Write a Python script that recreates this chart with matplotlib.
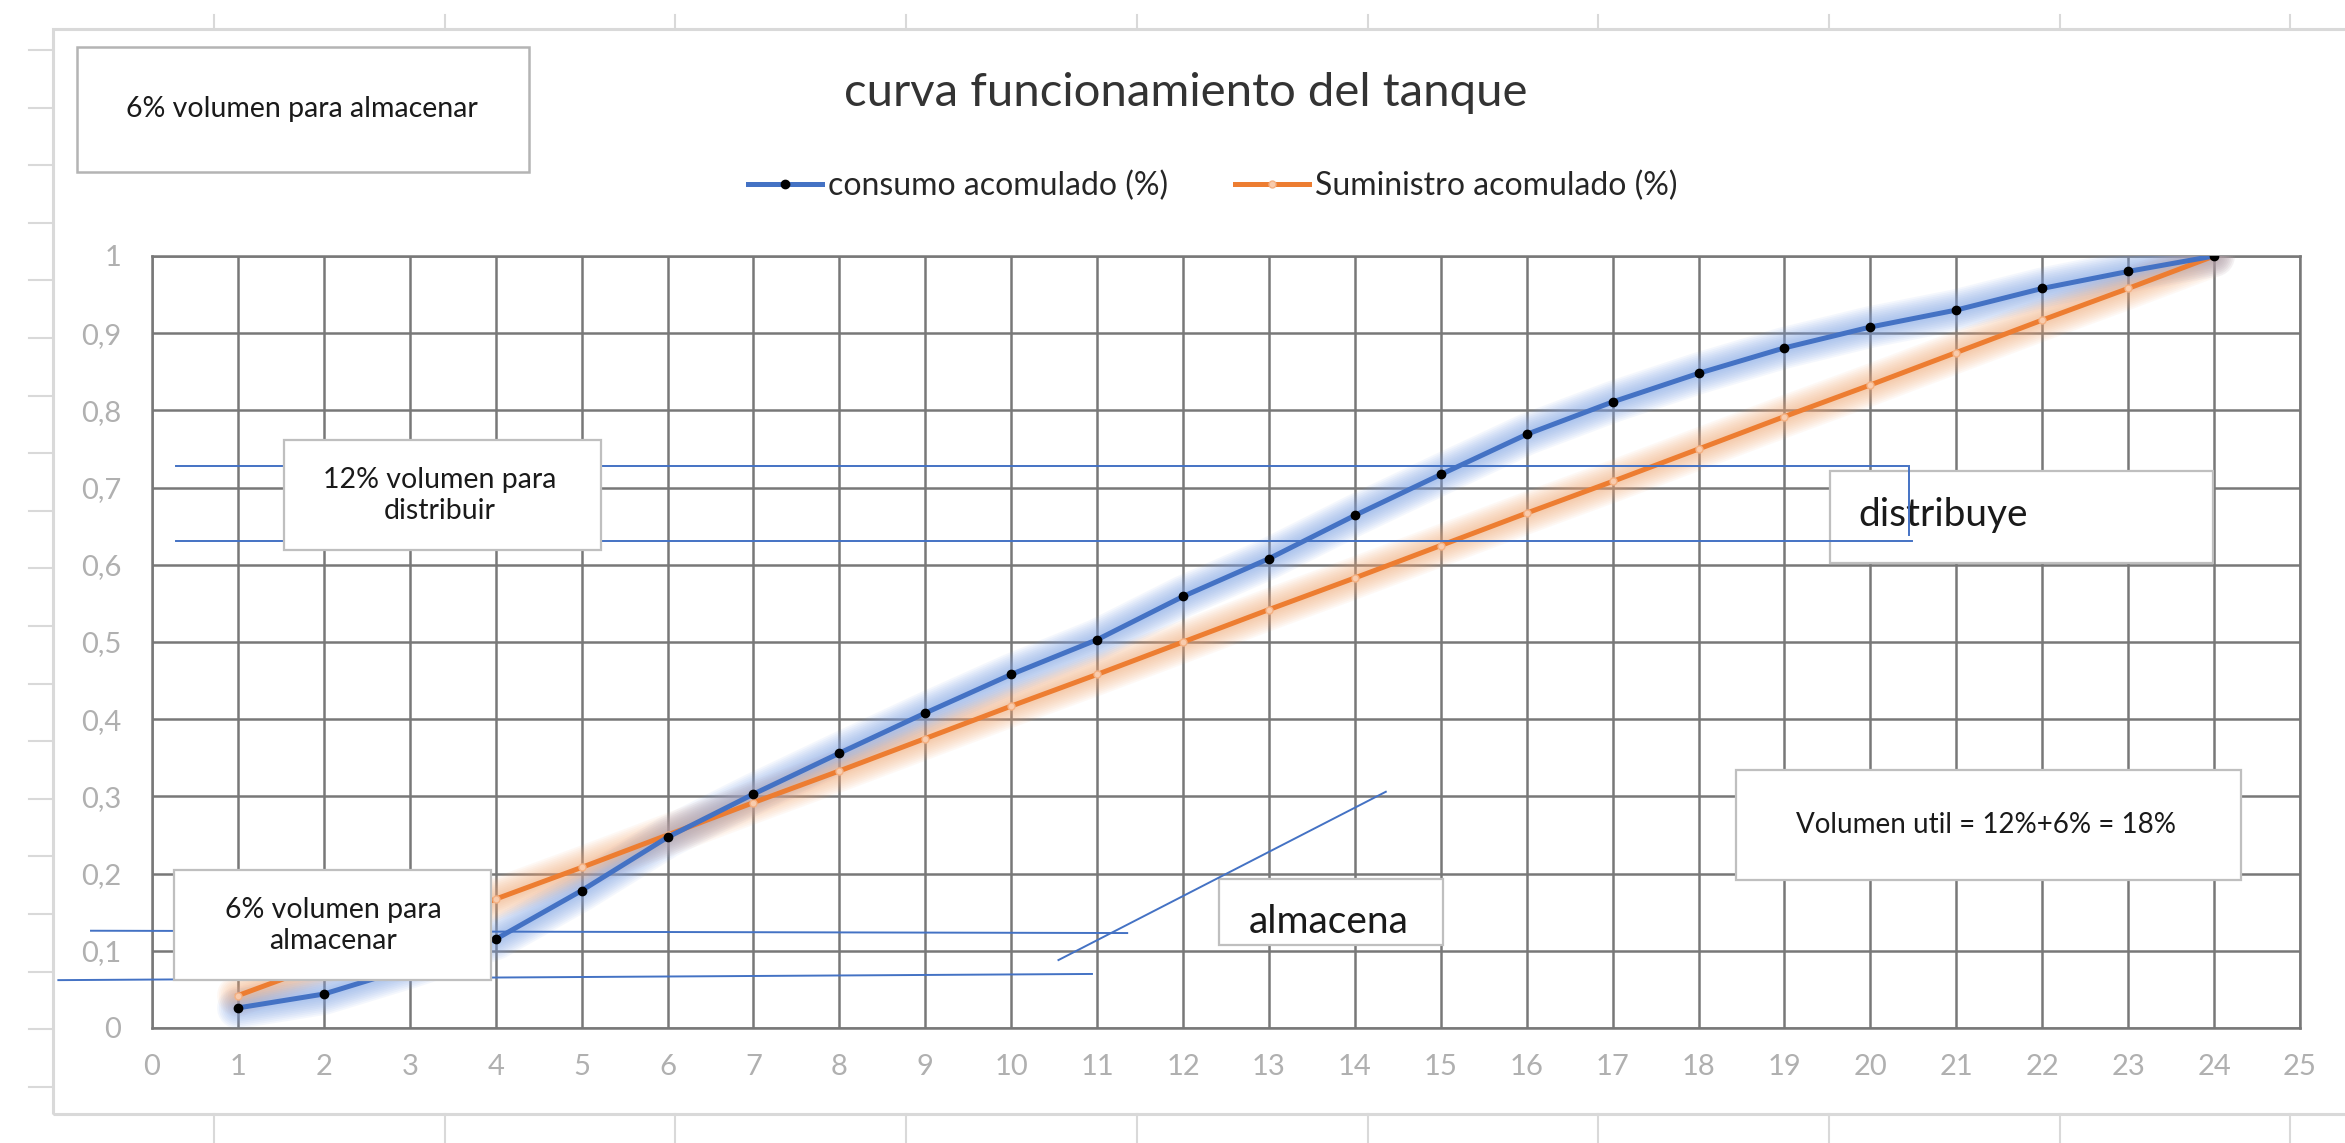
import matplotlib.pyplot as plt
from matplotlib.patches import Rectangle
from matplotlib.lines import Line2D

plt.rcParams['font.family'] = ['Lato', 'DejaVu Sans']

W, H = 2345, 1143  # output size in px

# ---- data ----
horas = list(range(1, 25))
consumo = [0.026, 0.044, 0.078, 0.115, 0.178, 0.247, 0.303, 0.356, 0.408, 0.458,
           0.503, 0.559, 0.608, 0.664, 0.717, 0.769, 0.811, 0.848, 0.881, 0.908,
           0.930, 0.958, 0.980, 1.000]
suministro = [0.042, 0.083, 0.125, 0.167, 0.208, 0.250, 0.292, 0.333, 0.375, 0.417,
              0.458, 0.500, 0.542, 0.583, 0.625, 0.667, 0.708, 0.750, 0.792, 0.833,
              0.875, 0.917, 0.958, 1.000]
x_ticks = list(range(26))
y_ticks = [0, 0.1, 0.2, 0.3, 0.4, 0.5, 0.6, 0.7, 0.8, 0.9, 1.0]
y_labels = ['0', '0,1', '0,2', '0,3', '0,4', '0,5', '0,6', '0,7', '0,8', '0,9', '1']

serie_consumo = 'consumo acomulado (%)'
serie_suministro = 'Suministro acomulado (%)'
titulo = 'curva funcionamiento del tanque'

# hand drawn marker lines (data units): (x0, y0, x1, y1)
lineas_distribuir = [(0.28, 0.728, 20.43, 0.728),
                     (0.28, 0.631, 20.48, 0.631),
                     (20.45, 0.728, 20.45, 0.639)]
lineas_almacenar = [(-0.71, 0.126, 11.35, 0.123),
                    (-1.09, 0.062, 10.94, 0.070),
                    (10.55, 0.088, 14.36, 0.306)]

BLUE = '#4472C4'
ORANGE = '#ED7D31'
GRID = '#787878'


def fx(px):
    return px / W


def fy(py):
    return 1 - py / H


fig = plt.figure(figsize=(W / 100, H / 100), dpi=100)

# spreadsheet background: chart area border and cell marks
fig.patches.append(Rectangle((fx(53), fy(1114)), fx(2500) - fx(53), fy(29) - fy(1114),
                             transform=fig.transFigure, fill=False,
                             edgecolor='#d9d9d9', lw=2.2, zorder=0))
for k in range(10):
    cx = 214 + 230.7 * k
    fig.add_artist(Line2D([fx(cx)] * 2, [fy(15), fy(29)], color='#d9d9d9', lw=1.5))
    fig.add_artist(Line2D([fx(cx)] * 2, [fy(1114), fy(1143)], color='#d9d9d9', lw=1.5))
for k in range(19):
    ry = 50 + 57.6 * k
    fig.add_artist(Line2D([fx(29), fx(53)], [fy(ry)] * 2, color='#d9d9d9', lw=1.5))

ax = fig.add_axes([fx(152), fy(1028), fx(2300) - fx(152), fy(256) - fy(1028)])
ax.set_xlim(0, 25)
ax.set_ylim(0, 1)
ax.set_xticks(x_ticks)
ax.set_yticks(y_ticks)
ax.set_yticklabels(y_labels)
ax.set_axisbelow(True)
ax.grid(True, color=GRID, lw=1.8)
for s in ax.spines.values():
    s.set_color(GRID)
    s.set_linewidth(1.8)
ax.tick_params(length=0, labelsize=21, labelcolor='#b0b0b0')
ax.tick_params(axis='x', pad=19)
ax.tick_params(axis='y', pad=22)

# soft glow under the series
for i in range(10):
    w = 30 - 2.6 * i
    ax.plot(horas, consumo, color='#7aa0e6', lw=w, alpha=0.08,
            solid_capstyle='round', solid_joinstyle='round', zorder=3)
    ax.plot(horas, suministro, color='#f5a66e', lw=w, alpha=0.07,
            solid_capstyle='round', solid_joinstyle='round', zorder=3)

ax.plot(horas, suministro, color=ORANGE, lw=3.6, marker='o', ms=5,
        mfc='#F8CBAD', mec='#F4B183', zorder=5)
ax.plot(horas, consumo, color=BLUE, lw=3.6, marker='o', ms=6,
        mfc='black', mec='black', zorder=5)

for x0, y0, x1, y1 in lineas_distribuir + lineas_almacenar:
    ax.plot([x0, x1], [y0, y1], color=BLUE, lw=1.4, zorder=6, clip_on=False)


def caja(x0, x1, y0, y1, z):
    ax.add_patch(Rectangle((x0, y0), x1 - x0, y1 - y0, facecolor='white',
                           edgecolor='#bfbfbf', lw=1.6, zorder=z, clip_on=False))


# boxes inside the plot
caja(19.53, 23.99, 0.602, 0.722, 2)
ax.text(19.86, 0.664, 'distribuye', fontsize=28, ha='left', va='center',
        color='#1a1a1a', zorder=2.5)
caja(12.42, 15.02, 0.108, 0.193, 2)
ax.text(13.69, 0.137, 'almacena', fontsize=28, ha='center', va='center',
        color='#1a1a1a', zorder=2.5)
caja(18.43, 24.31, 0.192, 0.334, 2)
ax.text(21.34, 0.263, 'Volumen util = 12%+6% = 18%', fontsize=20, ha='center',
        va='center', color='#1a1a1a', zorder=2.5)
caja(1.54, 5.23, 0.619, 0.762, 7)
ax.text(3.35, 0.690, '12% volumen para\ndistribuir', fontsize=20.5, ha='center',
        va='center', linespacing=1.25, color='#1a1a1a', zorder=8)
caja(0.26, 3.95, 0.062, 0.205, 7)
ax.text(2.11, 0.133, '6% volumen para\nalmacenar', fontsize=20.5, ha='center',
        va='center', linespacing=1.25, color='#1a1a1a', zorder=8)

# box above the chart
fig.patches.append(Rectangle((fx(77), fy(172)), fx(529) - fx(77), fy(47) - fy(172),
                             transform=fig.transFigure, facecolor='white',
                             edgecolor='#b4b4b4', lw=1.8))
fig.text(fx(302), fy(109), '6% volumen para almacenar', fontsize=20.5,
         ha='center', va='center', color='#1a1a1a')

fig.text(fx(1186), fy(93), titulo, fontsize=34, ha='center', va='center',
         color='#333333')

handles = [Line2D([], [], color=BLUE, lw=3.6, marker='o', ms=6, mfc='black', mec='black'),
           Line2D([], [], color=ORANGE, lw=3.6, marker='o', ms=5, mfc='#F8CBAD', mec='#F4B183')]
fig.legend(handles, [serie_consumo, serie_suministro], loc='center',
           bbox_to_anchor=(fx(1213), fy(186)), ncol=2, frameon=False,
           fontsize=23, handlelength=2.3, handletextpad=0.2, columnspacing=2.1,
           borderpad=0, labelcolor='#262626')

fig.savefig('out.png', dpi=100, facecolor='white')
